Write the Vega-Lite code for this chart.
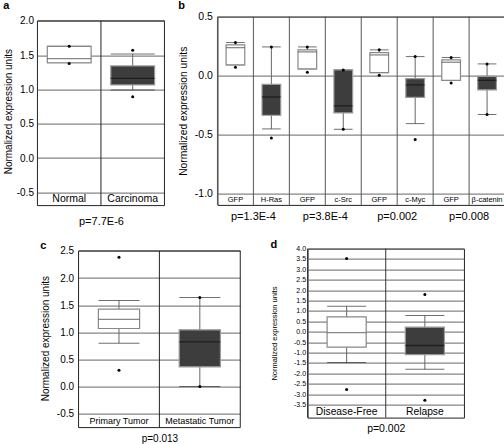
{
"$schema":"https://vega.github.io/schema/vega-lite/v6.json",
"padding":{"left":3,"top":-1.4,"right":0,"bottom":0},
"background":"white",
"spacing":12,
"center":true,
"vconcat":[
{"spacing":12,"hconcat":[
{"width":127,"height":189,
 "view":{"stroke":null},
 "title":{"text":"a","offset":5.4},
 "layer":[
  {"data":{"values":[{"g":"Normal"},{"g":"Carcinoma"}]},
   "mark":{"type":"rule","color":"#222","strokeWidth":1},
   "encoding":{"x":{"field":"g","type":"nominal","bandPosition":0,"scale":{"domain":["Normal","Carcinoma"],"paddingInner":0,"paddingOuter":0},
     "axis":{"title":"p=7.7E-6","titleFontSize":11,"titlePadding":10,"labelFontSize":10.5,"labelPadding":-7,"labelBaseline":"middle"}},
    "y":{"datum":2.0,"type":"quantitative"},"y2":{"datum":-0.694}}},
  {"data":{"values":[{"g":"Carcinoma"}]},
   "mark":{"type":"rule","color":"#222","strokeWidth":1},
   "encoding":{"x":{"field":"g","type":"nominal","bandPosition":1},"y":{"datum":2.0,"type":"quantitative"},"y2":{"datum":-0.694}}},
  {"data":{"values":[{}]},"mark":{"type":"rule","color":"#222"},"encoding":{"y":{"datum":2.0,"type":"quantitative"}}},
  {"data":{"values":[{}]},"mark":{"type":"rule","color":"#222"},"encoding":{"y":{"datum":-0.694,"type":"quantitative"}}},
  {"data":{"values":[
    {"g":"Normal","lo":1.39,"q1":1.39,"med":1.45,"q3":1.63,"hi":1.63,"t":"w"},
    {"g":"Carcinoma","lo":0.993,"q1":1.066,"med":1.162,"q3":1.343,"hi":1.518,"t":"d"}]},
   "encoding":{"x":{"field":"g","type":"nominal"}},
   "layer":[
    {"mark":{"type":"rule","color":"#666"},
     "encoding":{"y":{"field":"lo","type":"quantitative","title":"Normalized expression units",
        "scale":{"domain":[-0.694,2.063],"nice":false,"zero":false},
        "axis":{"values":[-0.5,0,0.5,1,1.5,2],"tickCount":50,"format":".1f","labelFontSize":10,"titleFontSize":10,"labelPadding":4,"titlePadding":3,"labelOverlap":false,"labelFlush":false}},
      "y2":{"field":"hi"}}},
    {"mark":{"type":"tick","orient":"horizontal","size":44,"thickness":1,"color":"#333"},"encoding":{"y":{"field":"lo","type":"quantitative","title":"Normalized expression units"}}},
    {"mark":{"type":"tick","orient":"horizontal","size":44,"thickness":1,"color":"#333"},"encoding":{"y":{"field":"hi","type":"quantitative","title":"Normalized expression units"}}},
    {"mark":{"type":"bar","width":{"band":0.69},"strokeWidth":1.2},
     "encoding":{"y":{"field":"q1","type":"quantitative","title":"Normalized expression units"},"y2":{"field":"q3"},
      "fill":{"condition":{"test":"datum.t=='d'","value":"#3d3d3d"},"value":"#ffffff"},
      "stroke":{"condition":{"test":"datum.t=='d'","value":"#999999"},"value":"#888888"}}},
    {"mark":{"type":"tick","orient":"horizontal","size":44,"thickness":1.3},
     "encoding":{"y":{"field":"med","type":"quantitative","title":"Normalized expression units"},
      "color":{"condition":{"test":"datum.t=='d'","value":"#111111"},"value":"#555555"}}}
   ]},
  {"data":{"values":[{"g":"Normal","v":1.63},{"g":"Normal","v":1.38},{"g":"Carcinoma","v":1.571},{"g":"Carcinoma","v":0.895}]},
   "mark":{"type":"point","filled":true,"size":9,"color":"#000","opacity":1},
   "encoding":{"x":{"field":"g","type":"nominal"},"y":{"field":"v","type":"quantitative","title":"Normalized expression units"}}}
 ]},
{"width":287.6,"height":188.3,
 "title":{"text":"b","offset":0.65},
 "layer":[
  {"data":{"values":[{"g":"GFP1"},{"g":"H-Ras"},{"g":"GFP2"},{"g":"c-Src"},{"g":"GFP3"},{"g":"c-Myc"},{"g":"GFP4"},{"g":"β-catenin"}]},
   "mark":{"type":"rule","color":"#555","strokeWidth":1},
   "encoding":{"x":{"field":"g","type":"nominal","bandPosition":0,"scale":{"domain":["GFP1","H-Ras","GFP2","c-Src","GFP3","c-Myc","GFP4","β-catenin"],"paddingInner":0,"paddingOuter":0},
     "axis":{"title":null,"labelFontSize":7.5,"labelPadding":-5.6,"labelBaseline":"middle","labelExpr":"indexof(datum.label,'GFP')==0 ? 'GFP' : datum.label"}}}},
  {"data":{"values":[
    {"g":"GFP1","lo":0.091,"q1":0.091,"med":0.237,"q3":0.26,"hi":0.28,"t":"w"},
    {"g":"H-Ras","lo":-0.452,"q1":-0.336,"med":-0.181,"q3":-0.074,"hi":0.243,"t":"d"},
    {"g":"GFP2","lo":0.057,"q1":0.057,"med":0.201,"q3":0.218,"hi":0.243,"t":"w"},
    {"g":"c-Src","lo":-0.455,"q1":-0.316,"med":-0.257,"q3":0.048,"hi":0.048,"t":"d"},
    {"g":"GFP3","lo":0.025,"q1":0.025,"med":0.175,"q3":0.195,"hi":0.218,"t":"w"},
    {"g":"c-Myc","lo":-0.407,"q1":-0.184,"med":-0.079,"q3":-0.025,"hi":0.161,"t":"d"},
    {"g":"GFP4","lo":-0.04,"q1":-0.04,"med":0.113,"q3":0.133,"hi":0.153,"t":"w"},
    {"g":"β-catenin","lo":-0.33,"q1":-0.121,"med":-0.04,"q3":-0.006,"hi":0.099,"t":"d"}]},
   "encoding":{"x":{"field":"g","type":"nominal"}},
   "layer":[
    {"mark":{"type":"rule","color":"#666"},
     "encoding":{"y":{"field":"lo","type":"quantitative","title":"Normalized expression units",
        "scale":{"domain":[-1.096,0.5],"nice":false,"zero":false},
        "axis":{"values":[-1,-0.5,0,0.5],"tickCount":50,"format":".1f","labelFontSize":10.5,"titleFontSize":10.3,"labelPadding":5,"titlePadding":6,"labelOverlap":false,"labelFlush":false}},
      "y2":{"field":"hi"}}},
    {"mark":{"type":"tick","orient":"horizontal","size":18.7,"thickness":1,"color":"#333"},"encoding":{"y":{"field":"lo","type":"quantitative","title":"Normalized expression units"}}},
    {"mark":{"type":"tick","orient":"horizontal","size":18.7,"thickness":1,"color":"#333"},"encoding":{"y":{"field":"hi","type":"quantitative","title":"Normalized expression units"}}},
    {"mark":{"type":"bar","width":{"band":0.52},"strokeWidth":1.2},
     "encoding":{"y":{"field":"q1","type":"quantitative","title":"Normalized expression units"},"y2":{"field":"q3"},
      "fill":{"condition":{"test":"datum.t=='d'","value":"#3d3d3d"},"value":"#ffffff"},
      "stroke":{"condition":{"test":"datum.t=='d'","value":"#999999"},"value":"#888888"}}},
    {"mark":{"type":"tick","orient":"horizontal","size":18.7,"thickness":1.3},
     "encoding":{"y":{"field":"med","type":"quantitative","title":"Normalized expression units"},
      "color":{"condition":{"test":"datum.t=='d'","value":"#111111"},"value":"#555555"}}}
   ]},
  {"data":{"values":[
    {"g":"GFP1","v":0.28},{"g":"GFP1","v":0.07},
    {"g":"H-Ras","v":0.243},{"g":"H-Ras","v":-0.528},
    {"g":"GFP2","v":0.243},{"g":"GFP2","v":0.028},
    {"g":"c-Src","v":0.048},{"g":"c-Src","v":-0.455},
    {"g":"GFP3","v":0.218},{"g":"GFP3","v":0.003},
    {"g":"c-Myc","v":0.161},{"g":"c-Myc","v":-0.542},
    {"g":"GFP4","v":0.153},{"g":"GFP4","v":-0.062},
    {"g":"β-catenin","v":0.099},{"g":"β-catenin","v":-0.33}]},
   "mark":{"type":"point","filled":true,"size":9,"color":"#000","opacity":1},
   "encoding":{"x":{"field":"g","type":"nominal"},"y":{"field":"v","type":"quantitative","title":"Normalized expression units"}}},
  {"data":{"values":[{"g":"GFP1","p":"p=1.3E-4"},{"g":"GFP2","p":"p=3.8E-4"},{"g":"GFP3","p":"p=0.002"},{"g":"GFP4","p":"p=0.008"}]},
   "mark":{"type":"text","fontSize":11,"baseline":"middle","align":"center","color":"#000"},
   "encoding":{"x":{"field":"g","type":"nominal","bandPosition":1},"y":{"datum":-1.195,"type":"quantitative"},"text":{"field":"p"}}}
 ]}
]},
{"spacing":28,"hconcat":[
{"width":161.7,"height":179,
 "view":{"stroke":null},
 "title":{"text":"c","offset":0,"dy":4.7},
 "layer":[
  {"data":{"values":[{"g":"Primary Tumor"},{"g":"Metastatic Tumor"}]},
   "mark":{"type":"rule","color":"#222","strokeWidth":1},
   "encoding":{"x":{"field":"g","type":"nominal","bandPosition":0,"scale":{"domain":["Primary Tumor","Metastatic Tumor"],"paddingInner":0,"paddingOuter":0},
     "axis":{"title":"p=0.013","titleFontSize":10,"titlePadding":5.5,"labelFontSize":9,"labelPadding":-7,"labelBaseline":"middle"}},
    "y":{"datum":2.5,"type":"quantitative"},"y2":{"datum":-0.758}}},
  {"data":{"values":[{"g":"Metastatic Tumor"}]},
   "mark":{"type":"rule","color":"#222","strokeWidth":1},
   "encoding":{"x":{"field":"g","type":"nominal","bandPosition":1},"y":{"datum":2.5,"type":"quantitative"},"y2":{"datum":-0.758}}},
  {"data":{"values":[{}]},"mark":{"type":"rule","color":"#222"},"encoding":{"y":{"datum":2.5,"type":"quantitative"}}},
  {"data":{"values":[{}]},"mark":{"type":"rule","color":"#222"},"encoding":{"y":{"datum":-0.758,"type":"quantitative"}}},
  {"data":{"values":[
    {"g":"Primary Tumor","lo":0.80,"q1":1.07,"med":1.24,"q3":1.426,"hi":1.586,"t":"w"},
    {"g":"Metastatic Tumor","lo":0.0,"q1":0.363,"med":0.824,"q3":1.045,"hi":1.64,"t":"d"}]},
   "encoding":{"x":{"field":"g","type":"nominal"}},
   "layer":[
    {"mark":{"type":"rule","color":"#666"},
     "encoding":{"y":{"field":"lo","type":"quantitative","title":"Normalized expression units",
        "scale":{"domain":[-0.758,2.544],"nice":false,"zero":false},
        "axis":{"values":[-0.5,0,0.5,1,1.5,2,2.5],"tickCount":50,"format":".1f","labelFontSize":10,"titleFontSize":10,"labelPadding":5,"titlePadding":6,"labelOverlap":false,"labelFlush":false}},
      "y2":{"field":"hi"}}},
    {"mark":{"type":"tick","orient":"horizontal","size":41,"thickness":1,"color":"#333"},"encoding":{"y":{"field":"lo","type":"quantitative","title":"Normalized expression units"}}},
    {"mark":{"type":"tick","orient":"horizontal","size":41,"thickness":1,"color":"#333"},"encoding":{"y":{"field":"hi","type":"quantitative","title":"Normalized expression units"}}},
    {"mark":{"type":"bar","width":{"band":0.51},"strokeWidth":1.2},
     "encoding":{"y":{"field":"q1","type":"quantitative","title":"Normalized expression units"},"y2":{"field":"q3"},
      "fill":{"condition":{"test":"datum.t=='d'","value":"#3d3d3d"},"value":"#ffffff"},
      "stroke":{"condition":{"test":"datum.t=='d'","value":"#999999"},"value":"#888888"}}},
    {"mark":{"type":"tick","orient":"horizontal","size":41,"thickness":1.3},
     "encoding":{"y":{"field":"med","type":"quantitative","title":"Normalized expression units"},
      "color":{"condition":{"test":"datum.t=='d'","value":"#111111"},"value":"#555555"}}}
   ]},
  {"data":{"values":[{"g":"Primary Tumor","v":2.385},{"g":"Primary Tumor","v":0.30},{"g":"Metastatic Tumor","v":1.64},{"g":"Metastatic Tumor","v":0.0}]},
   "mark":{"type":"point","filled":true,"size":9,"color":"#000","opacity":1},
   "encoding":{"x":{"field":"g","type":"nominal"},"y":{"field":"v","type":"quantitative","title":"Normalized expression units"}}}
 ]},
{"width":156.4,"height":169,
 "title":{"text":"d","offset":0,"dy":5.5},
 "layer":[
  {"data":{"values":[{"g":"Disease-Free"},{"g":"Relapse"}]},
   "mark":{"type":"rule","color":"#333","strokeWidth":1},
   "encoding":{"x":{"field":"g","type":"nominal","bandPosition":0,"scale":{"domain":["Disease-Free","Relapse"],"paddingInner":0,"paddingOuter":0},
     "axis":{"title":"p=0.002","titleFontSize":10.5,"titlePadding":6,"labelFontSize":10.3,"labelPadding":-6.5,"labelBaseline":"middle"}}}},
  {"data":{"values":[
    {"g":"Disease-Free","lo":-1.48,"q1":-0.74,"med":-0.04,"q3":0.715,"hi":1.23,"t":"w"},
    {"g":"Relapse","lo":-1.80,"q1":-1.10,"med":-0.66,"q3":0.22,"hi":0.78,"t":"d"}]},
   "encoding":{"x":{"field":"g","type":"nominal"}},
   "layer":[
    {"mark":{"type":"rule","color":"#666"},
     "encoding":{"y":{"field":"lo","type":"quantitative","title":"Normalized expression units",
        "scale":{"domain":[-4.125,4.0],"nice":false,"zero":false},
        "axis":{"values":[-3.5,-3,-2.5,-2,-1.5,-1,-0.5,0,0.5,1,1.5,2,2.5,3,3.5,4],"tickCount":50,"format":".1f","labelFontSize":7,"titleFontSize":7.5,"labelPadding":2,"titlePadding":15,"labelOverlap":false,"labelFlush":false}},
      "y2":{"field":"hi"}}},
    {"mark":{"type":"tick","orient":"horizontal","size":39,"thickness":1,"color":"#333"},"encoding":{"y":{"field":"lo","type":"quantitative","title":"Normalized expression units"}}},
    {"mark":{"type":"tick","orient":"horizontal","size":39,"thickness":1,"color":"#333"},"encoding":{"y":{"field":"hi","type":"quantitative","title":"Normalized expression units"}}},
    {"mark":{"type":"bar","width":{"band":0.5},"strokeWidth":1.2},
     "encoding":{"y":{"field":"q1","type":"quantitative","title":"Normalized expression units"},"y2":{"field":"q3"},
      "fill":{"condition":{"test":"datum.t=='d'","value":"#3d3d3d"},"value":"#ffffff"},
      "stroke":{"condition":{"test":"datum.t=='d'","value":"#999999"},"value":"#888888"}}},
    {"mark":{"type":"tick","orient":"horizontal","size":39,"thickness":1.3},
     "encoding":{"y":{"field":"med","type":"quantitative","title":"Normalized expression units"},
      "color":{"condition":{"test":"datum.t=='d'","value":"#111111"},"value":"#555555"}}}
   ]},
  {"data":{"values":[{"g":"Disease-Free","v":3.52},{"g":"Disease-Free","v":-2.78},{"g":"Relapse","v":1.79},{"g":"Relapse","v":-3.29}]},
   "mark":{"type":"point","filled":true,"size":9,"color":"#000","opacity":1},
   "encoding":{"x":{"field":"g","type":"nominal"},"y":{"field":"v","type":"quantitative","title":"Normalized expression units"}}}
 ]}
]}
],
"config":{
 "font":"Liberation Sans",
 "locale":{"number":{"decimal":".","thousands":",","grouping":[3],"currency":["$",""],"minus":"-"}},
 "view":{"stroke":"#222","strokeWidth":1},
 "axis":{"labelColor":"#000","titleColor":"#000","titleFontWeight":"normal","gridColor":"#666","gridOpacity":1,"ticks":false,"domain":false,"labelFont":"Liberation Sans","titleFont":"Liberation Sans"},
 "axisX":{"grid":false,"labelAngle":0},
 "axisY":{"grid":true},
 "title":{"anchor":"start","frame":"bounds","fontWeight":"bold","fontSize":11,"color":"#000","font":"Liberation Sans"}
}
}
